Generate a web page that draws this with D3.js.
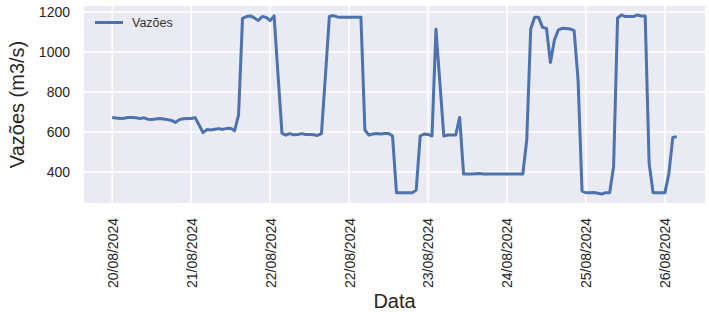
<!DOCTYPE html>
<html>
<head>
<meta charset="utf-8">
<script src="https://cdn.jsdelivr.net/npm/d3@7"></script>
<style>
  body { margin: 0; background: #fff; }
  text { font-family: "Liberation Sans", Arial, sans-serif; }
</style>
</head>
<body>
<div id="plot"></div>
<script>
// Hourly flow readings (m3/s), one per step
const flow = [
    673, 670, 668, 669, 672, 672, 671, 667, 671, 664,
    663, 665, 667, 665, 662, 658, 648, 662, 666, 667,
    668, 672, 635, 597, 612, 610, 614, 617, 613, 618,
    619, 607, 685, 1168, 1177, 1180, 1170, 1157, 1177, 1173,
    1157, 1180, 885, 593, 585, 592, 586, 588, 592, 588,
    588, 586, 583, 592, 880, 1177, 1182, 1175, 1173, 1173,
    1173, 1173, 1173, 1173, 610, 585, 590, 593, 590, 592,
    593, 580, 297, 297, 297, 296, 297, 310, 580, 590,
    588, 580, 1113, 845, 580, 585, 585, 585, 673, 390,
    390, 390, 392, 393, 390, 390, 390, 390, 390, 390,
    390, 390, 390, 390, 390, 560, 1115, 1173, 1173, 1123,
    1118, 947, 1060, 1110, 1118, 1117, 1115, 1107, 860, 305,
    297, 297, 298, 294, 290, 297, 297, 427, 1170, 1185,
    1177, 1177, 1177, 1185, 1180, 1180, 443, 297, 297, 297,
    297, 393, 573, 577
];

// x tick positions (row index) and their labels
const tickIndex = [0, 20, 40, 60, 80, 100, 120, 140];
const tickLabels = ["20/08/2024", "21/08/2024", "22/08/2024", "22/08/2024",
                    "23/08/2024", "24/08/2024", "25/08/2024", "26/08/2024"];
const yTicks = [400, 600, 800, 1000, 1200];

// Dimensions
const margin = {top: 6, right: 4, bottom: 109, left: 84};
const width = 709 - margin.left - margin.right;
const height = 312 - margin.top - margin.bottom;

const svg = d3.select("#plot")
    .append("svg")
    .attr("width", width + margin.left + margin.right)
    .attr("height", height + margin.top + margin.bottom);

const g = svg.append("g")
    .attr("transform", `translate(${margin.left},${margin.top})`);

// Scales (matplotlib-style 5% padding)
const n = flow.length - 1;
const x = d3.scaleLinear()
    .domain([-0.05 * n, n * 1.05])
    .range([0, width]);

const yMin = d3.min(flow), yMax = d3.max(flow);
const pad = (yMax - yMin) * 0.05;
const y = d3.scaleLinear()
    .domain([yMin - pad, yMax + pad])
    .range([height, 0]);

// Background
g.append("rect")
    .attr("width", width)
    .attr("height", height)
    .attr("fill", "#eaeaf2");

// Grid
g.append("g")
    .selectAll("line")
    .data(yTicks)
    .join("line")
    .attr("x1", 0).attr("x2", width)
    .attr("y1", d => y(d)).attr("y2", d => y(d))
    .attr("stroke", "#fff")
    .attr("stroke-width", 1.6);

g.append("g")
    .selectAll("line")
    .data(tickIndex)
    .join("line")
    .attr("x1", d => x(d)).attr("x2", d => x(d))
    .attr("y1", 0).attr("y2", height)
    .attr("stroke", "#fff")
    .attr("stroke-width", 1.6);

// Axes (labels only, no domain or tick marks)
const xAxis = g.append("g")
    .attr("transform", `translate(0,${height})`)
    .call(d3.axisBottom(x)
        .tickValues(tickIndex)
        .tickFormat((d, i) => tickLabels[i])
        .tickSize(0));
xAxis.select(".domain").remove();
xAxis.selectAll("text")
    .attr("transform", "rotate(-90)")
    .attr("x", -15)
    .attr("y", 0)
    .attr("dy", "0.35em")
    .attr("text-anchor", "end")
    .style("font-size", "14px")
    .style("font-family", "'Liberation Sans', Arial, sans-serif")
    .attr("fill", "#262626");

const yAxis = g.append("g")
    .call(d3.axisLeft(y)
        .tickValues(yTicks)
        .tickFormat(d3.format("d"))
        .tickSize(0)
        .tickPadding(14));
yAxis.select(".domain").remove();
yAxis.selectAll("text")
    .style("font-size", "14px")
    .style("font-family", "'Liberation Sans', Arial, sans-serif")
    .attr("fill", "#262626");

// Series line
const line = d3.line()
    .x((d, i) => x(i))
    .y(d => y(d));

g.append("path")
    .datum(flow)
    .attr("fill", "none")
    .attr("stroke", "#4c72b0")
    .attr("stroke-width", 3)
    .attr("stroke-linejoin", "round")
    .attr("d", line);

// Axis titles
svg.append("text")
    .attr("x", margin.left + width / 2)
    .attr("y", 308)
    .attr("text-anchor", "middle")
    .style("font-size", "20px")
    .attr("fill", "#262626")
    .text("Data");

svg.append("text")
    .attr("transform", `translate(24,${margin.top + height / 2}) rotate(-90)`)
    .attr("text-anchor", "middle")
    .style("font-size", "20px")
    .attr("fill", "#262626")
    .text("Vazões (m3/s)");

// Legend
const legend = svg.append("g");
legend.append("line")
    .attr("x1", 95).attr("x2", 123)
    .attr("y1", 22.5).attr("y2", 22.5)
    .attr("stroke", "#4c72b0")
    .attr("stroke-width", 3);
legend.append("text")
    .attr("x", 132)
    .attr("y", 27)
    .style("font-size", "12.5px")
    .attr("fill", "#333")
    .text("Vazões");
</script>
</body>
</html>
